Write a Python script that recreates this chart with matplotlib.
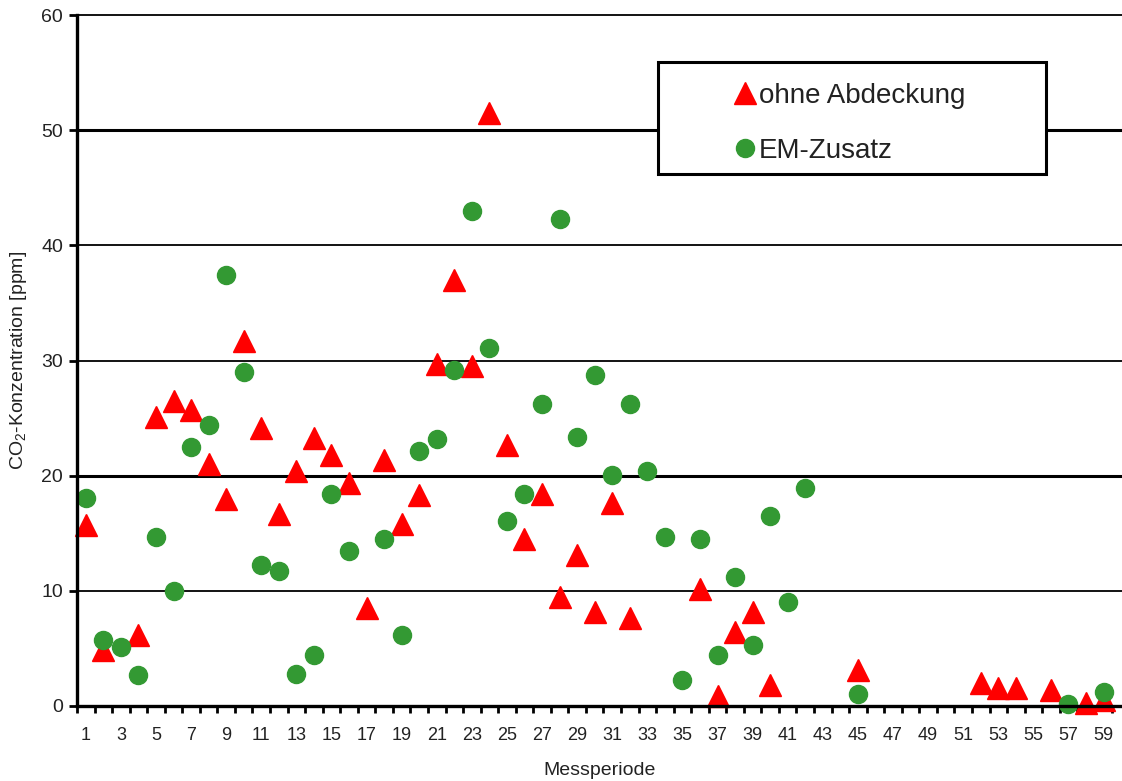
import numpy as np
import matplotlib
matplotlib.use("Agg")
import matplotlib.pyplot as plt
from matplotlib import patches

plt.rcParams['font.family'] = ['Liberation Sans', 'DejaVu Sans']
plt.rcParams['mathtext.fontset'] = 'custom'
plt.rcParams['mathtext.rm'] = 'Liberation Sans'
plt.rcParams['mathtext.it'] = 'Liberation Sans:italic'

# CO2 readings per measuring period
ohne_period = [1, 2, 4, 5, 6, 7, 8, 9, 10, 11, 12, 13, 14, 15, 16, 17, 18, 19, 20,
               21, 22, 23, 24, 25, 26, 27, 28, 29, 30, 31, 32, 36, 37, 38, 39, 40,
               45, 52, 53, 54, 56, 58, 59]
ohne_co2 = [15.7, 4.9, 6.2, 25.1, 26.5, 25.7, 21.0, 18.0, 31.7, 24.1, 16.7, 20.4,
            23.3, 21.8, 19.4, 8.5, 21.4, 15.8, 18.3, 29.7, 37.0, 29.5, 51.5, 22.7,
            14.5, 18.4, 9.5, 13.1, 8.2, 17.6, 7.6, 10.2, 0.9, 6.4, 8.2, 1.8,
            3.1, 2.0, 1.6, 1.6, 1.4, 0.3, 0.5]

em_period = [1, 2, 3, 4, 5, 6, 7, 8, 9, 10, 11, 12, 13, 14, 15, 16, 18, 19, 20,
             21, 22, 23, 24, 25, 26, 27, 28, 29, 30, 31, 32, 33, 34, 35, 36, 37,
             38, 39, 40, 41, 42, 45, 57, 59]
em_co2 = [18.1, 5.7, 5.1, 2.7, 14.7, 10.0, 22.5, 24.4, 37.4, 29.0, 12.2, 11.7,
          2.8, 4.4, 18.4, 13.5, 14.5, 6.2, 22.1, 23.2, 29.2, 43.0, 31.1, 16.1,
          18.4, 26.2, 42.3, 23.4, 28.7, 20.1, 26.2, 20.4, 14.7, 2.3, 14.5, 4.4,
          11.2, 5.3, 16.5, 9.0, 18.9, 1.0, 0.2, 1.2]

W, H = 1122, 781
fig = plt.figure(figsize=(W / 100, H / 100), dpi=100)
ax = fig.add_axes([77 / W, 1 - 706 / H, 1 - 77 / W, (706 - 15) / H])

ax.set_xlim(0.5, 60.05)
ax.set_ylim(0, 60)

for v in range(10, 61, 10):
    ax.axhline(v, color='black', lw=2.2 if v in (20, 50) else 1.3, zorder=1, clip_on=False)

ax.plot(ohne_period, ohne_co2, ls='none', marker='^', ms=16, color='#ff0000',
        zorder=3, clip_on=False, label='ohne Abdeckung')
ax.plot(em_period, em_co2, ls='none', marker='o', ms=13, color='#339933',
        zorder=4, clip_on=False, label='EM-Zusatz')

for side in ('top', 'right'):
    ax.spines[side].set_visible(False)
for side in ('left', 'bottom'):
    ax.spines[side].set_linewidth(2.4)
    ax.spines[side].set_zorder(5)

ax.set_xticks(range(1, 60, 2))
ax.set_xticks(np.arange(0.5, 60, 1), minor=True)
ax.tick_params(axis='x', which='major', length=0, pad=15, labelsize=13, labelcolor='#222222')
ax.tick_params(axis='x', which='minor', length=5, width=2, direction='out')
ax.set_yticks(range(0, 61, 10))
ax.tick_params(axis='y', length=6, width=2, pad=4, labelsize=14, labelcolor='#222222')

ax.set_ylabel('CO$_\\mathregular{2}$-Konzentration [ppm]', fontsize=14, labelpad=9, color='#222222')
ax.set_xlabel('Messperiode', fontsize=14, labelpad=13, color='#222222')

# legend sits in a white box drawn over the grid
box = patches.Rectangle((658 / W, 1 - 174 / H), (1046 - 658) / W, (174 - 62) / H,
                        transform=fig.transFigure, facecolor='white', edgecolor='black',
                        linewidth=2.2, zorder=6, clip_on=False)
ax.add_patch(box)
leg = ax.legend(loc='upper left', bbox_to_anchor=(734 / W, 1 - 83 / H),
                bbox_transform=fig.transFigure, frameon=False, fontsize=20,
                handlelength=0.8, handletextpad=0.1, labelspacing=1.04,
                borderpad=0, borderaxespad=0, numpoints=1)
for t in leg.get_texts():
    t.set_color('#222222')
leg.set_zorder(7)

fig.savefig('out.png', dpi=100)
